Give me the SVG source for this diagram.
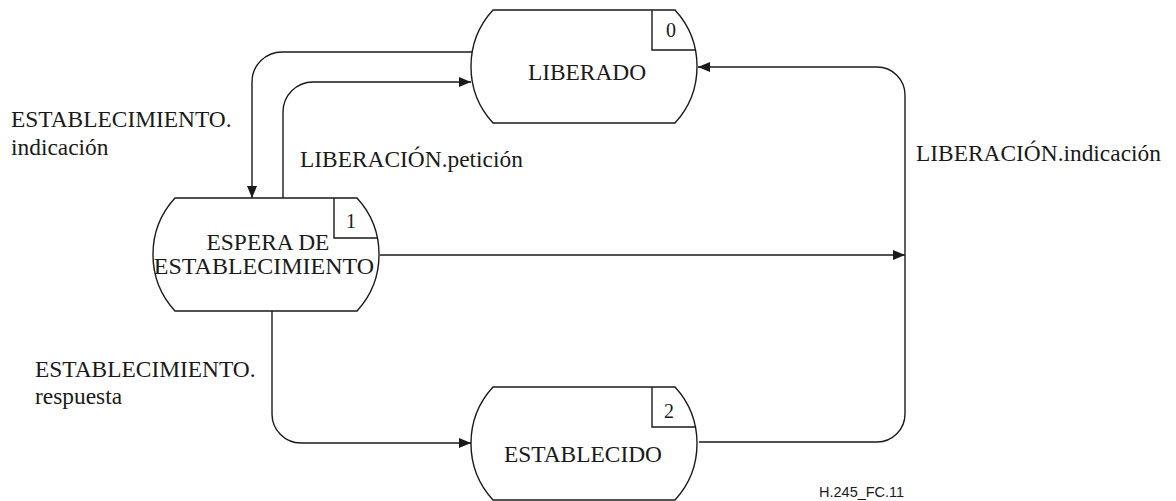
<svg xmlns="http://www.w3.org/2000/svg" width="1176" height="501" viewBox="0 0 1176 501">
<style>
.shape{fill:#fff;stroke:#1a1a1a;stroke-width:1.4}
.box{fill:none;stroke:#1a1a1a;stroke-width:1.4}
.conn{fill:none;stroke:#1a1a1a;stroke-width:1.4}
text{font-family:"Liberation Serif","Times New Roman",serif;fill:#1a1a1a}
.lbl{font-size:23.4px}
.num{font-size:20px;text-anchor:middle}
.name{font-size:23.4px;text-anchor:middle}
.ref{font-family:"Liberation Sans",Arial,sans-serif;font-size:14.5px}
</style>
<defs>
<path id="state" d="M22,0 H204 A83.5,83.5 0 0 1 204,113 H22 A83.5,83.5 0 0 1 22,0 Z"/>
<path id="tag" d="M181,0 V40 H224.4"/>
<marker id="arr" viewBox="0 0 12 10" refX="12" refY="5" markerWidth="12" markerHeight="10" markerUnits="userSpaceOnUse" orient="auto">
<path d="M0,0 L12,5 L0,10 Z" fill="#1a1a1a"/>
</marker>
</defs>
<g id="connectors">
<path class="conn" d="M472,52 H282 A30,30 0 0 0 252,82 V198" marker-end="url(#arr)"/>
<path class="conn" d="M283,198 V112 A30,30 0 0 1 313,82 H471" marker-end="url(#arr)"/>
<path class="conn" d="M380,255 H905" marker-end="url(#arr)"/>
<path class="conn" d="M272,311 V414 A29,29 0 0 0 301,443 H471" marker-end="url(#arr)"/>
<path class="conn" d="M699,442 H877 A28,28 0 0 0 905,414 V95 A28,28 0 0 0 877,67 H698" marker-end="url(#arr)"/>
</g>
<g id="node-liberado" transform="translate(471,10)">
<use href="#state" class="shape"/>
<use href="#tag" class="box"/>
<text class="num" x="200" y="27" font-family="Liberation Serif, serif">0</text>
<text class="name" x="116" y="70" font-family="Liberation Serif, serif">LIBERADO</text>
</g>
<g id="node-espera" transform="translate(153,198)">
<use href="#state" class="shape"/>
<use href="#tag" class="box"/>
<text class="num" x="198" y="30" font-family="Liberation Serif, serif">1</text>
<text class="name" x="115" y="52" font-family="Liberation Serif, serif" font-size="24">ESPERA DE</text>
<text class="name" x="111" y="76" font-family="Liberation Serif, serif" style="font-size:24px">ESTABLECIMIENTO</text>
</g>
<g id="node-establecido" transform="translate(471,387)">
<use href="#state" class="shape"/>
<use href="#tag" class="box"/>
<text class="num" x="198" y="31" font-family="Liberation Serif, serif">2</text>
<text class="name" x="112" y="75" font-family="Liberation Serif, serif">ESTABLECIDO</text>
</g>
<g id="labels" font-family="Liberation Serif, serif">
<text class="lbl" x="11" y="127">ESTABLECIMIENTO.</text>
<text class="lbl" x="11" y="155">indicación</text>
<text class="lbl" x="300" y="167">LIBERACIÓN.petición</text>
<text class="lbl" x="916" y="161">LIBERACIÓN.indicación</text>
<text class="lbl" x="35" y="377">ESTABLECIMIENTO.</text>
<text class="lbl" x="35" y="404">respuesta</text>
<text class="ref" x="819" y="497">H.245_FC.11</text>
</g>
</svg>
